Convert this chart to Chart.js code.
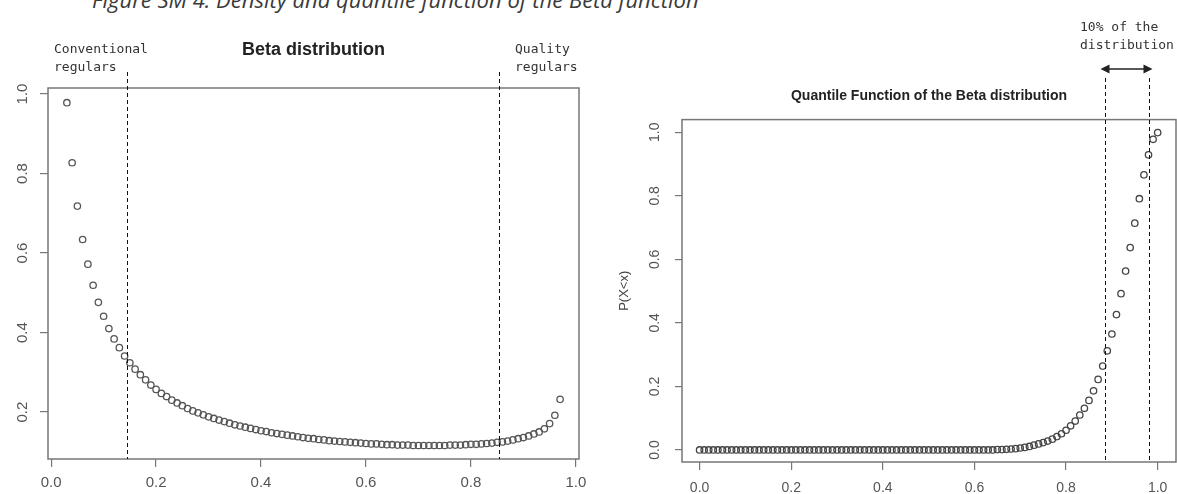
<!DOCTYPE html>
<html>
<head>
<meta charset="utf-8">
<script src="https://cdn.jsdelivr.net/npm/chart.js@4.4.1/dist/chart.umd.min.js"></script>
<style>
  html, body { margin: 0; padding: 0; background: #fff; }
  body { width: 1177px; height: 494px; position: relative; overflow: hidden; }
  #caption { position: absolute; left: 92px; top: -13.5px; font: italic 22px "Open Sans", sans-serif; color: #3a3a3a; white-space: nowrap; line-height: 24px; }
  #densityChart { position: absolute; left: 0; top: 0; }
  #quantileChart { position: absolute; left: 600px; top: 0; }
</style>
</head>
<body>
<div id="caption">Figure SM 4. Density and quantile function of the Beta function</div>
<canvas id="densityChart" width="600" height="494"></canvas>
<canvas id="quantileChart" width="590" height="494"></canvas>
<script>
// left panel: beta density
const densityX = [
  0.03, 0.04, 0.05, 0.06, 0.07, 0.08, 0.09, 0.10, 0.11, 0.12,
  0.13, 0.14, 0.15, 0.16, 0.17, 0.18, 0.19, 0.20, 0.21, 0.22,
  0.23, 0.24, 0.25, 0.26, 0.27, 0.28, 0.29, 0.30, 0.31, 0.32,
  0.33, 0.34, 0.35, 0.36, 0.37, 0.38, 0.39, 0.40, 0.41, 0.42,
  0.43, 0.44, 0.45, 0.46, 0.47, 0.48, 0.49, 0.50, 0.51, 0.52,
  0.53, 0.54, 0.55, 0.56, 0.57, 0.58, 0.59, 0.60, 0.61, 0.62,
  0.63, 0.64, 0.65, 0.66, 0.67, 0.68, 0.69, 0.70, 0.71, 0.72,
  0.73, 0.74, 0.75, 0.76, 0.77, 0.78, 0.79, 0.80, 0.81, 0.82,
  0.83, 0.84, 0.85, 0.86, 0.87, 0.88, 0.89, 0.90, 0.91, 0.92,
  0.93, 0.94, 0.95, 0.96, 0.97
];
const densityY = [
  0.978, 0.827, 0.718, 0.634, 0.572, 0.519, 0.476, 0.441, 0.410, 0.384,
  0.362, 0.341, 0.324, 0.308, 0.294, 0.281, 0.268, 0.257, 0.247, 0.239,
  0.230, 0.223, 0.216, 0.209, 0.203, 0.198, 0.193, 0.188, 0.184, 0.180,
  0.176, 0.172, 0.168, 0.165, 0.162, 0.159, 0.156, 0.153, 0.151, 0.148,
  0.146, 0.144, 0.142, 0.140, 0.138, 0.136, 0.134, 0.133, 0.131, 0.130,
  0.128, 0.127, 0.126, 0.125, 0.124, 0.123, 0.122, 0.121, 0.120, 0.120,
  0.119, 0.118, 0.118, 0.117, 0.117, 0.117, 0.116, 0.116, 0.116, 0.116,
  0.116, 0.116, 0.116, 0.117, 0.117, 0.117, 0.118, 0.119, 0.119, 0.120,
  0.121, 0.122, 0.124, 0.125, 0.127, 0.130, 0.133, 0.136, 0.140, 0.145,
  0.150, 0.158, 0.171, 0.192, 0.232
];

// right panel: P(X<x)
const quantileX = [
  0.00, 0.01, 0.02, 0.03, 0.04, 0.05, 0.06, 0.07, 0.08, 0.09,
  0.10, 0.11, 0.12, 0.13, 0.14, 0.15, 0.16, 0.17, 0.18, 0.19,
  0.20, 0.21, 0.22, 0.23, 0.24, 0.25, 0.26, 0.27, 0.28, 0.29,
  0.30, 0.31, 0.32, 0.33, 0.34, 0.35, 0.36, 0.37, 0.38, 0.39,
  0.40, 0.41, 0.42, 0.43, 0.44, 0.45, 0.46, 0.47, 0.48, 0.49,
  0.50, 0.51, 0.52, 0.53, 0.54, 0.55, 0.56, 0.57, 0.58, 0.59,
  0.60, 0.61, 0.62, 0.63, 0.64, 0.65, 0.66, 0.67, 0.68, 0.69,
  0.70, 0.71, 0.72, 0.73, 0.74, 0.75, 0.76, 0.77, 0.78, 0.79,
  0.80, 0.81, 0.82, 0.83, 0.84, 0.85, 0.86, 0.87, 0.88, 0.89,
  0.90, 0.91, 0.92, 0.93, 0.94, 0.95, 0.96, 0.97, 0.98, 0.99,
  1.00
];
const quantileY = [
  0, 0, 0, 0, 0, 0, 0, 0, 0, 0,
  0, 0, 0, 0, 0, 0, 0, 0, 0, 0,
  0, 0, 0, 0, 0, 0, 0, 0, 0, 0,
  0, 0, 0, 0, 0, 0, 0, 0, 0, 0,
  0, 0, 0, 0, 0, 0, 0, 0, 0, 0,
  0, 0, 0, 0, 0, 0, 0, 0, 0, 0,
  0, 0, 0, 0, 0, 0.001, 0.001, 0.002, 0.003, 0.004,
  0.006, 0.008, 0.011, 0.015, 0.019, 0.023, 0.028, 0.034, 0.042, 0.051,
  0.062, 0.076, 0.091, 0.110, 0.131, 0.156, 0.186, 0.222, 0.264, 0.312,
  0.365, 0.426, 0.492, 0.563, 0.637, 0.714, 0.791, 0.866, 0.929, 0.978,
  0.999
];

const xTicks = [0, 0.2, 0.4, 0.6, 0.8, 1.0];
const densityYTicks = [0.2, 0.4, 0.6, 0.8, 1.0];
const quantileYTicks = [0, 0.2, 0.4, 0.6, 0.8, 1.0];
const regularCuts = [0.145, 0.854];   // conventional / quality regulars
const tailCuts = [0.886, 0.98];       // 10% of the distribution

const pick = list => scale => { scale.ticks = list.map(v => ({ value: v })); };
const fmt = v => v.toFixed(1);

// box, dashed cut lines, notes and the arrow
const annotate = {
  id: 'annotate',
  afterDraw(chart, args, opts) {
    const { ctx, chartArea: a, scales } = chart;
    ctx.save();
    ctx.strokeStyle = '#777';
    ctx.lineWidth = 1.5;
    ctx.strokeRect(a.left, a.top, a.right - a.left, a.bottom - a.top);

    ctx.strokeStyle = '#111';
    ctx.lineWidth = 1;
    ctx.setLineDash([4, 3]);
    const xs = opts.cuts.map(v => Math.round(scales.x.getPixelForValue(v)) + 0.5);
    xs.forEach(px => {
      ctx.beginPath();
      ctx.moveTo(px, opts.cutTop);
      ctx.lineTo(px, a.bottom);
      ctx.stroke();
    });
    ctx.setLineDash([]);

    ctx.fillStyle = '#333';
    ctx.font = '13px "DejaVu Sans Mono", monospace';
    ctx.textBaseline = 'middle';
    ctx.textAlign = 'left';
    opts.notes.forEach(n => ctx.fillText(n.text, n.x, n.y));

    if (opts.arrowY) {
      const y = opts.arrowY, x1 = xs[0] - 5, x2 = xs[1] + 3;
      ctx.strokeStyle = '#222';
      ctx.fillStyle = '#222';
      ctx.lineWidth = 1.5;
      ctx.beginPath();
      ctx.moveTo(x1 + 6, y);
      ctx.lineTo(x2 - 6, y);
      ctx.stroke();
      ctx.beginPath();
      ctx.moveTo(x1, y); ctx.lineTo(x1 + 9, y - 4.5); ctx.lineTo(x1 + 9, y + 4.5); ctx.closePath();
      ctx.fill();
      ctx.beginPath();
      ctx.moveTo(x2, y); ctx.lineTo(x2 - 9, y - 4.5); ctx.lineTo(x2 - 9, y + 4.5); ctx.closePath();
      ctx.fill();
    }
    ctx.restore();
  }
};

const pointStyle = {
  showLine: false,
  pointStyle: 'circle',
  pointRadius: 3.2,
  pointBorderWidth: 1.3,
  borderColor: '#555',
  backgroundColor: 'rgba(0,0,0,0)'
};

new Chart(document.getElementById('densityChart'), {
  type: 'scatter',
  data: {
    datasets: [Object.assign({
      label: 'Beta density',
      data: densityX.map((x, i) => ({ x: x, y: densityY[i] }))
    }, pointStyle)]
  },
  plugins: [annotate],
  options: {
    responsive: false,
    animation: false,
    layout: { padding: { left: 0, right: 21, top: 0, bottom: 0 } },
    plugins: {
      legend: { display: false },
      tooltip: { enabled: false },
      title: {
        display: true,
        fullSize: false,
        text: 'Beta distribution',
        color: '#222',
        font: { family: '"Liberation Sans", Arial, sans-serif', size: 18, weight: 'bold' },
        padding: { top: 39, bottom: 27.4 }
      },
      annotate: {
        cuts: regularCuts,
        cutTop: 72,
        notes: [
          { text: 'Conventional', x: 54, y: 50 },
          { text: 'regulars', x: 54, y: 68 },
          { text: 'Quality', x: 515, y: 50 },
          { text: 'regulars', x: 515, y: 68 }
        ]
      }
    },
    scales: {
      x: {
        type: 'linear',
        min: -0.006,
        max: 1.006,
        afterBuildTicks: pick(xTicks),
        afterFit: s => { s.height = 35; },
        border: { display: false },
        grid: { drawOnChartArea: false, tickLength: 8, color: '#777', lineWidth: 1.2 },
        ticks: { callback: fmt, autoSkip: false, maxRotation: 0, padding: 7, color: '#555',
                 font: { family: '"Liberation Sans", Arial, sans-serif', size: 15 } }
      },
      y: {
        type: 'linear',
        min: 0.082,
        max: 1.015,
        afterBuildTicks: pick(densityYTicks),
        afterFit: s => { s.width = 48; },
        border: { display: false },
        grid: { drawOnChartArea: false, tickLength: 8, color: '#777', lineWidth: 1.2 },
        ticks: { callback: fmt, autoSkip: false, minRotation: 90, maxRotation: 90, crossAlign: 'center',
                 padding: 6.5, color: '#555',
                 font: { family: '"Liberation Sans", Arial, sans-serif', size: 15 } }
      }
    }
  }
});

new Chart(document.getElementById('quantileChart'), {
  type: 'scatter',
  data: {
    datasets: [Object.assign({
      label: 'P(X<x)',
      data: quantileX.map((x, i) => ({ x: x, y: quantileY[i] }))
    }, pointStyle, { borderColor: '#444' })]
  },
  plugins: [annotate],
  options: {
    responsive: false,
    animation: false,
    layout: { padding: { left: 0, right: 14, top: 0, bottom: 0 } },
    plugins: {
      legend: { display: false },
      tooltip: { enabled: false },
      title: {
        display: true,
        fullSize: false,
        text: 'Quantile Function of the Beta distribution',
        color: '#222',
        font: { family: '"Liberation Sans", Arial, sans-serif', size: 14, weight: 'bold' },
        padding: { top: 88, bottom: 14.8 }
      },
      annotate: {
        cuts: tailCuts,
        cutTop: 78,
        arrowY: 69,
        notes: [
          { text: '10% of the', x: 480, y: 28 },
          { text: 'distribution', x: 480, y: 46 }
        ]
      }
    },
    scales: {
      x: {
        type: 'linear',
        min: -0.0384,
        max: 1.04,
        afterBuildTicks: pick(xTicks),
        afterFit: s => { s.height = 32; },
        border: { display: false },
        grid: { drawOnChartArea: false, tickLength: 8, color: '#777', lineWidth: 1.2 },
        ticks: { callback: fmt, autoSkip: false, maxRotation: 0, padding: 10, color: '#555',
                 font: { family: '"Liberation Sans", Arial, sans-serif', size: 14 } }
      },
      y: {
        type: 'linear',
        min: -0.038,
        max: 1.04,
        afterBuildTicks: pick(quantileYTicks),
        afterFit: s => { s.width = 82; },
        border: { display: false },
        grid: { drawOnChartArea: false, tickLength: 7, color: '#777', lineWidth: 1.2 },
        title: { display: true, text: 'P(X<x)', color: '#444', padding: { top: 17, bottom: 0 },
                 font: { family: '"Liberation Sans", Arial, sans-serif', size: 13 } },
        ticks: { callback: fmt, autoSkip: false, minRotation: 90, maxRotation: 90, crossAlign: 'center',
                 padding: 10, color: '#555',
                 font: { family: '"Liberation Sans", Arial, sans-serif', size: 14 } }
      }
    }
  }
});
</script>
</body>
</html>
